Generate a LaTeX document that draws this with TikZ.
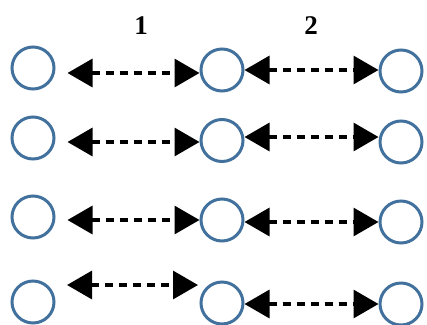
\documentclass[tikz,border=0pt]{standalone}
\usepackage{fontspec}
\setmainfont{Liberation Serif}
\usetikzlibrary{arrows.meta}
\definecolor{cblue}{RGB}{65,113,156}
\tikzset{
  ring/.style={circle, draw=cblue, line width=3pt, minimum size=42pt, inner sep=0pt},
  conn/.style={line width=3.2pt, dash pattern=on 8pt off 6pt, {Triangle[length=25pt,width=28pt]}-{Triangle[length=25pt,width=28pt]}},
  lbl/.style={font=\fontsize{27}{30}\selectfont\bfseries}
}
\begin{document}
\begin{tikzpicture}[x=1pt,y=-1pt]
\useasboundingbox (0,0) rectangle (427,324);
% labels
\node[lbl] (l1) at (141,26) {1};
\node[lbl] (l2) at (311,26) {2};
% row 1
\node[ring] (A1) at (33,68) {};
\node[ring] (B1) at (222,70) {};
\node[ring] (C1) at (401,71) {};
% row 2
\node[ring] (A2) at (33,138) {};
\node[ring] (B2) at (222,140.5) {};
\node[ring] (C2) at (401,142) {};
% row 3
\node[ring] (A3) at (33,217) {};
\node[ring] (B3) at (222,220) {};
\node[ring] (C3) at (401,222) {};
% row 4
\node[ring] (A4) at (33,302) {};
\node[ring] (B4) at (222,303) {};
\node[ring] (C4) at (401,304) {};
\coordinate (p4a) at (67,285);
\coordinate (p4b) at (198,285);
% connectors
\draw[conn, shorten <=12pt] (A1.east |- 0,73) -- (B1.west |- 0,73);
\draw[conn] (B1.east |- 0,70) -- (C1.west |- 0,70);
\draw[conn, shorten <=12pt] (A2.east |- 0,142) -- (B2.west |- 0,142);
\draw[conn] (B2.east |- 0,137) -- (C2.west |- 0,137);
\draw[conn, shorten <=12pt] (A3.east |- 0,220) -- (B3.west |- 0,220);
\draw[conn] (B3.east |- 0,222) -- (C3.west |- 0,222);
\draw[conn] (p4a) -- (p4b);
\draw[conn] (B4.east |- 0,304) -- (C4.west |- 0,304);
\end{tikzpicture}
\end{document}
